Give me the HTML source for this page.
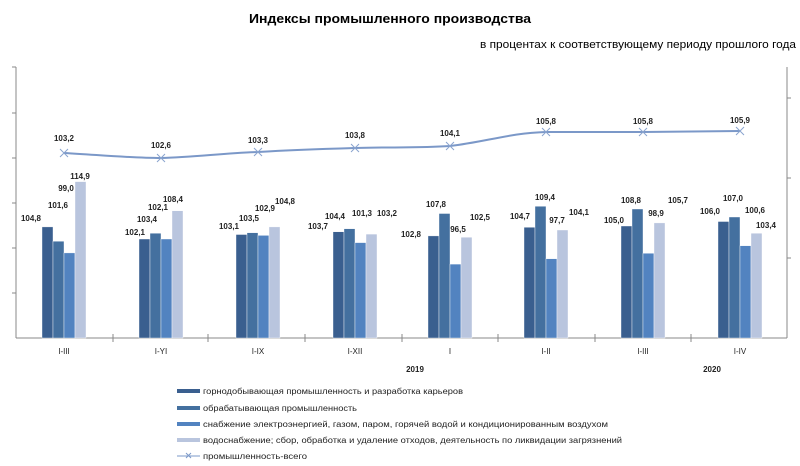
<!DOCTYPE html>
<html><head><meta charset="utf-8"><style>html,body{margin:0;padding:0;background:#fff}svg{display:block}</style></head>
<body>
<svg width="800" height="466" viewBox="0 0 800 466" xmlns="http://www.w3.org/2000/svg" font-family="Liberation Sans, DejaVu Sans, sans-serif">
<text x="249" y="23" font-size="13" font-weight="bold" textLength="282" lengthAdjust="spacingAndGlyphs">Индексы промышленного производства</text>
<text x="480" y="48" font-size="11" textLength="316" lengthAdjust="spacingAndGlyphs">в процентах к соответствующему периоду прошлого года</text>
<g stroke="#888" stroke-width="1">
<line x1="16" y1="67" x2="16" y2="338"/>
<line x1="16" y1="338" x2="787" y2="338"/>
<line x1="787" y1="67" x2="787" y2="338"/>
<line x1="12" y1="67" x2="16" y2="67"/><line x1="12" y1="113" x2="16" y2="113"/><line x1="12" y1="158" x2="16" y2="158"/><line x1="12" y1="203" x2="16" y2="203"/><line x1="12" y1="248" x2="16" y2="248"/><line x1="12" y1="293" x2="16" y2="293"/>
<line x1="787" y1="98" x2="791" y2="98"/><line x1="787" y1="178" x2="791" y2="178"/><line x1="787" y1="258" x2="791" y2="258"/>
<line x1="113" y1="334" x2="113" y2="342"/><line x1="208" y1="334" x2="208" y2="342"/><line x1="305" y1="334" x2="305" y2="342"/><line x1="402" y1="334" x2="402" y2="342"/><line x1="498" y1="334" x2="498" y2="342"/><line x1="595" y1="334" x2="595" y2="342"/><line x1="691" y1="334" x2="691" y2="342"/>
</g>
<g stroke="#fff" stroke-width="0.4">
<rect x="42" y="226.9" width="11" height="111.1" fill="#3a5f8f"/><rect x="53" y="241.2" width="11" height="96.8" fill="#44709f"/><rect x="64" y="252.9" width="11" height="85.1" fill="#5283c0"/><rect x="75" y="181.6" width="11" height="156.4" fill="#b9c5de"/>
<rect x="139" y="239" width="11" height="99" fill="#3a5f8f"/><rect x="150" y="233.2" width="11" height="104.8" fill="#44709f"/><rect x="161" y="239" width="11" height="99" fill="#5283c0"/><rect x="172" y="210.8" width="11" height="127.2" fill="#b9c5de"/>
<rect x="236" y="234.5" width="11" height="103.5" fill="#3a5f8f"/><rect x="247" y="232.7" width="11" height="105.3" fill="#44709f"/><rect x="258" y="235.4" width="11" height="102.6" fill="#5283c0"/><rect x="269" y="226.9" width="11" height="111.1" fill="#b9c5de"/>
<rect x="333" y="231.8" width="11" height="106.2" fill="#3a5f8f"/><rect x="344" y="228.7" width="11" height="109.3" fill="#44709f"/><rect x="355" y="242.6" width="11" height="95.4" fill="#5283c0"/><rect x="366" y="234.1" width="11" height="103.9" fill="#b9c5de"/>
<rect x="428" y="235.9" width="11" height="102.1" fill="#3a5f8f"/><rect x="439" y="213.5" width="11" height="124.5" fill="#44709f"/><rect x="450" y="264.1" width="11" height="73.9" fill="#5283c0"/><rect x="461" y="237.2" width="11" height="100.8" fill="#b9c5de"/>
<rect x="524" y="227.3" width="11" height="110.7" fill="#3a5f8f"/><rect x="535" y="206.3" width="11" height="131.7" fill="#44709f"/><rect x="546" y="258.7" width="11" height="79.3" fill="#5283c0"/><rect x="557" y="230" width="11" height="108" fill="#b9c5de"/>
<rect x="621" y="226" width="11" height="112" fill="#3a5f8f"/><rect x="632" y="209" width="11" height="129" fill="#44709f"/><rect x="643" y="253.3" width="11" height="84.7" fill="#5283c0"/><rect x="654" y="222.9" width="11" height="115.1" fill="#b9c5de"/>
<rect x="718" y="221.5" width="11" height="116.5" fill="#3a5f8f"/><rect x="729" y="217" width="11" height="121" fill="#44709f"/><rect x="740" y="245.7" width="11" height="92.3" fill="#5283c0"/><rect x="751" y="233.2" width="11" height="104.8" fill="#b9c5de"/>
</g>
<path fill="none" stroke="#7b98c8" stroke-width="2" d="M64,153 C100,155 130,158 161,158 C195,157 225,153 258,152 C290,150 320,149 355,148 C390,147 420,148 450,146 C485,142 510,133 546,132 L643,132 L740,131"/>
<g stroke="#8aa4cf" stroke-width="1">
<path d="M60,149l8,8M68,149l-8,8M157,154l8,8M165,154l-8,8M254,148l8,8M262,148l-8,8M351,144l8,8M359,144l-8,8M446,142l8,8M454,142l-8,8M542,128l8,8M550,128l-8,8M639,128l8,8M647,128l-8,8M736,127l8,8M744,127l-8,8"/>
</g>
<g font-size="8" font-weight="bold" text-anchor="middle" fill="#222">
<text x="64" y="141">103,2</text><text x="161" y="148">102,6</text><text x="258" y="143">103,3</text><text x="355" y="138">103,8</text><text x="450" y="136">104,1</text><text x="546" y="124">105,8</text><text x="643" y="124">105,8</text><text x="740" y="123">105,9</text>
</g>
<g font-size="8" font-weight="bold" text-anchor="middle" fill="#222">
<text x="31" y="221">104,8</text><text x="58" y="208">101,6</text><text x="66" y="191">99,0</text><text x="80" y="179">114,9</text>
<text x="135" y="235">102,1</text><text x="147" y="222">103,4</text><text x="158" y="210">102,1</text><text x="173" y="202">108,4</text>
<text x="229" y="229">103,1</text><text x="249" y="221">103,5</text><text x="265" y="211">102,9</text><text x="285" y="204">104,8</text>
<text x="318" y="229">103,7</text><text x="335" y="219">104,4</text><text x="362" y="216">101,3</text><text x="387" y="216">103,2</text>
<text x="411" y="237">102,8</text><text x="436" y="207">107,8</text><text x="458" y="232">96,5</text><text x="480" y="220">102,5</text>
<text x="520" y="219">104,7</text><text x="545" y="200">109,4</text><text x="557" y="223">97,7</text><text x="579" y="215">104,1</text>
<text x="614" y="223">105,0</text><text x="631" y="203">108,8</text><text x="656" y="216">98,9</text><text x="678" y="203">105,7</text>
<text x="710" y="214">106,0</text><text x="733" y="201">107,0</text><text x="755" y="213">100,6</text><text x="766" y="228">103,4</text>
</g>
<g font-size="8" text-anchor="middle" fill="#222">
<text x="64" y="354">I-III</text><text x="161" y="354">I-YI</text><text x="258" y="354">I-IX</text><text x="355" y="354">I-XII</text><text x="450" y="354">I</text><text x="546" y="354">I-II</text><text x="643" y="354">I-III</text><text x="740" y="354">I-IV</text>
<text x="415" y="372" font-weight="bold">2019</text><text x="712" y="372" font-weight="bold">2020</text>
</g>
<g font-size="8" fill="#222">
<rect x="177" y="389" width="23" height="4" fill="#3a5f8f"/><text x="203" y="394" textLength="260" lengthAdjust="spacingAndGlyphs">горнодобывающая промышленность и разработка карьеров</text>
<rect x="177" y="406" width="23" height="4" fill="#44709f"/><text x="203" y="411" textLength="154" lengthAdjust="spacingAndGlyphs">обрабатывающая промышленность</text>
<rect x="177" y="422" width="23" height="4" fill="#5283c0"/><text x="203" y="427" textLength="405" lengthAdjust="spacingAndGlyphs">снабжение электроэнергией, газом, паром, горячей водой и  кондиционированным воздухом</text>
<rect x="177" y="438" width="23" height="4" fill="#b9c5de"/><text x="203" y="443" textLength="419" lengthAdjust="spacingAndGlyphs">водоснабжение; сбор, обработка и удаление отходов, деятельность по ликвидации загрязнений</text>
<line x1="177" y1="456" x2="200" y2="456" stroke="#7b98c8"/><path d="M186,453l5,5M191,453l-5,5" stroke="#7b98c8"/><text x="203" y="459" textLength="104" lengthAdjust="spacingAndGlyphs">промышленность-всего</text>
</g>
</svg>
</body></html>
